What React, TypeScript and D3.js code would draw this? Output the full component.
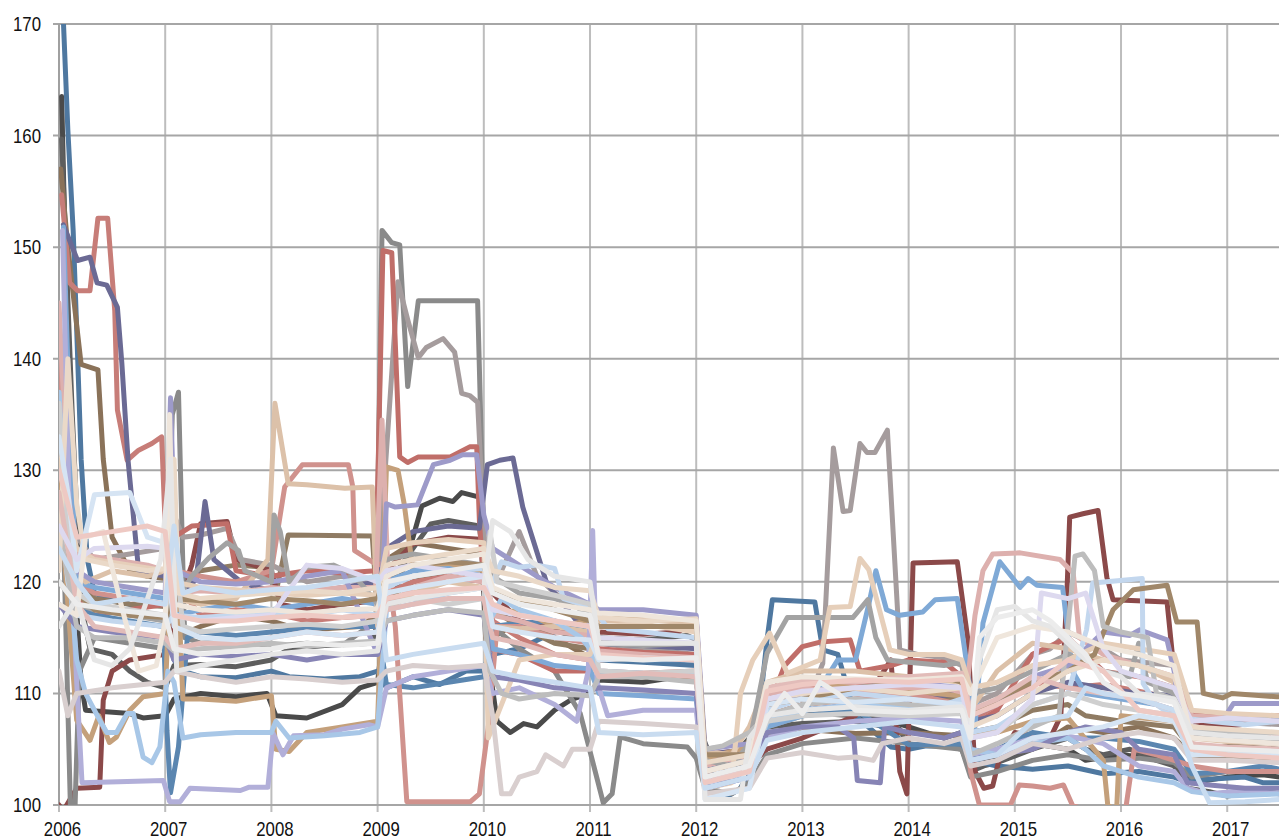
import React from "react";
import * as d3 from "d3";

// Each series: [month index since Jan 2006, index value]
const darkGray1 = [[0.3,163.5],[1,140],[1.8,120],[2.5,111],[3,108.5],[8,108.2],[9.5,107.8],[12,108],[13,109.5],[16,110],[20,109.7],[23.5,110],[24.5,108],[28,107.8],[32,109],[34,110.5],[36,111],[37,118],[38,119],[40,124],[41,126.8],[43,127.5],[44.5,127.2],[45.5,128],[47.5,127.6],[48.2,115],[49.5,107.5],[51,106.5],[52.5,107.3],[54,107],[56,108.5],[58,109.5],[60,110],[61,111.2],[66,111],[70,111.5],[72,111.5],[73,104],[74,102.5],[76,103],[78,104.5],[79.5,108],[84,108.3],[90,108],[94,107.5],[96,107],[100,106],[102,106.5],[103,104.5],[105,104],[107,105],[110,105.5],[114,105],[116,104],[120,104.5],[126,104],[128,102],[132,102.5],[136,102.7],[138,102.5]];
const darkGray2 = [[0.3,159.7],[1.5,135],[2.5,118],[3.5,114],[6,113.5],[8,112],[10,111],[12,110.5],[13,112.5],[16,112.6],[20,112.4],[24,113],[26,114],[30,114.3],[35.5,114.5],[36.5,119],[40,123],[42,125.2],[44,125.5],[47.5,125],[48.5,118],[50,117],[53,116],[56,115.7],[60,114.5],[61,115],[66,114.8],[71,115.2],[72,114.8],[72.8,106],[74,103.5],[76,104.2],[78,106],[80,107],[84,107.3],[90,107.5],[95,106.8],[96,105.2],[99,105.5],[102,105],[103,103],[104.5,103.5],[106,103.8],[110,105],[114,106],[116,105],[118,104.5],[121,105],[124,104],[126,103.5],[127.5,101.5],[130,101.2],[132,100.8],[136,101.2],[138,101]];
const steelBlue1 = [[0.2,176],[1,160.5],[1.6,151.5],[2,142.6],[2.5,131],[3.2,122],[4,119],[6,118.3],[8,118],[10,117.2],[12,116.5],[13,113],[14,112],[16,111.5],[20,111.4],[24,112],[26,111.5],[30,111.3],[34,111.5],[36,112],[37,110.5],[40,111.5],[43,110.8],[46,112],[48,112],[49,113.5],[52,114],[56,115.5],[58,116],[60,114],[61,113],[66,112.8],[72,112.5],[73,102],[75,100.5],[77,101.5],[78,103],[79,107.5],[80,114.8],[80.6,118.4],[85.4,118.2],[86.3,113.9],[88,113.5],[90,108],[94,105.2],[96,105],[98,105.3],[102,105.2],[103,104],[106,103.5],[110,103.2],[114,103.5],[118,102.8],[122,103],[126,102.5],[127,102.2],[130,102.3],[134,102.5],[136,102],[138,102]];
const brown1 = [[0.2,157],[1,150],[2.5,139.5],[4.4,139],[5,131],[6,124],[8,121],[10,120.5],[12,120.3],[13,115],[16,116],[20,117],[24,116.5],[26,116],[30,115.8],[34,116],[36,117],[37,122],[40,123.5],[44,123],[48,122.5],[49,115],[52,116.5],[56,115],[60,113.2],[61,112],[66,111.5],[72,111.5],[73,103.2],[76,103.8],[78,105.8],[80,106.5],[84,106.8],[90,106.4],[96,106.5],[102,106.2],[103,105],[106,104.5],[110,105],[114,107],[118,106.5],[122,107],[126,106],[128,104.5],[132,104.2],[138,104]];
const brown2 = [[0,128],[2,121],[4,118.5],[8,118],[12,117.8],[13,120],[16,121],[20,121.5],[23.5,121.3],[24.5,119],[25.9,124.2],[35.4,124.1],[36,117],[37,118.5],[40,120],[44,121],[48,120.5],[49,117.5],[52,116],[56,114.5],[60,114],[61,113],[66,113.2],[72,113],[73,104],[75,103.3],[78,104.8],[80,108],[84,109],[90,109.5],[96,110],[102,109.5],[103,106.5],[106,107],[110,108.5],[114,109],[116,108],[120,107.5],[126,107],[128,105],[132,105.3],[138,105]];
const darkRed1 = [[0,100],[0.5,99.5],[2,101.5],[4.6,101.6],[5,109.4],[6,112],[8,113],[12,113.5],[13,117],[15,121.5],[16,125.2],[19,125.4],[20,122],[24,121],[25,118],[28,117.5],[32,118],[36,118.3],[37,121],[40,123.4],[44,124],[48,123.8],[49,119],[52,116.5],[56,115.8],[60,115.2],[61,115.5],[66,115.3],[70,115.5],[72,116.7],[73,103],[75,102],[78,103.5],[80,105],[84,106],[90,108],[94,113],[95,103],[95.8,101],[96.5,121.7],[101.5,121.8],[102.7,114.8],[103.5,103],[104.5,101.5],[105.5,101.7],[106.2,104],[108,106.5],[112,106],[113.2,108],[113.9,119.3],[114.2,125.8],[115.7,126.1],[117.4,126.4],[118.4,120.4],[119.1,118.4],[125.2,118.2],[125.9,112.7],[127,109],[128,107.5],[132,107],[136,107.5],[138,107.3]];
const gray1 = [[0,140],[0.8,115],[1.3,99.5],[1.8,99.5],[2.3,112],[4,115],[8,114.5],[12,114],[12.8,135],[13.5,137],[14.2,115],[16,114.5],[20,114.8],[24,114.2],[28,114.5],[32,114.3],[35.8,116.5],[36.5,151.5],[37.6,150.4],[38.5,150.2],[39.4,137.5],[40.6,145.2],[47.3,145.2],[48,124],[49,116],[52,114],[56,112],[58.9,108.2],[61.5,100.2],[62.5,101],[63.4,106.1],[66,105.5],[71,105.2],[72,104.2],[73,101.5],[76,101],[78,102],[80,104.5],[84,105.5],[90,106],[96,105.5],[102,105],[103,102.5],[106,103],[110,104],[114,104.5],[118,104],[122,104.2],[126,103.8],[128,102.5],[132,103],[138,103]];
const mauveGray1 = [[0,130],[2,124],[4,122],[8,122.5],[12,123],[13,126],[14,124],[16,124.2],[19,124.8],[20.5,122],[24,121.5],[28,120],[32,120.5],[36,120],[38.3,146.9],[39.4,143.5],[40.6,140.1],[41.5,141],[43.4,141.8],[44.7,140.6],[45.5,136.9],[46.4,136.7],[47.3,136.1],[48.3,120],[50,121],[52,124.5],[54,120.5],[56,119],[60,117],[61,114.5],[66,114],[72,113.5],[73,104],[78,104.5],[80,107],[84,108],[86.3,112.7],[87.5,132],[88.6,126.3],[89.4,126.4],[90.5,132.4],[91.3,131.6],[92.2,131.6],[93.6,133.6],[95,113.9],[97,113.5],[100,113.2],[102,112.5],[103,109],[106,110],[110,113.5],[112,114],[114,115.5],[118,114],[120,113],[126,112.5],[128,108],[132,107.5],[138,107.2]];
const red1 = [[0,125],[2,119],[4,117],[8,117.5],[12,118],[13,124],[15,125],[19,125.2],[20,121],[24,120.5],[28,121],[32,120.8],[35.8,121],[36.6,149.7],[37.6,149.5],[38.5,131.2],[39.4,130.7],[40.6,131.2],[44.2,131.2],[46.4,132.1],[47.2,132.1],[47.5,125.5],[48.5,114],[52,113.5],[56,112],[60,112],[61,114],[66,113.7],[72,113.5],[73,104.5],[78,105],[80,108.5],[82,112.5],[84,114.2],[86,114.6],[89.4,114.8],[90.5,112],[94,112.5],[96,113],[100,112.8],[102,111.5],[103,107],[106,108.5],[110,113.5],[114,115],[118,112],[122,111.5],[126,110.5],[128,108.3],[132,108],[138,108]];
const salmon1 = [[0.3,154.7],[1.2,146.8],[2.1,146.1],[3.5,146.1],[4.4,152.6],[5.5,152.6],[6.3,144.3],[6.6,135.4],[7.7,130.9],[9,131.8],[10.5,132.4],[11.6,133],[12.2,121],[14,119],[16,117],[20,117.5],[24,117.2],[28,116.5],[32,116.8],[36,117],[37,119],[40,120],[44,120.5],[48,120],[49,116.5],[52,115],[56,113.5],[60,113],[61,112],[66,111.8],[72,112],[73,103.8],[78,104.5],[80,109.5],[84,110.5],[90,111],[96,110.5],[102,110],[103,107.5],[106,109],[110,111],[114,110.5],[118,110.8],[122,110.2],[126,109.5],[128,106.5],[132,106.2],[138,106]];
const slatePurple1 = [[0.5,152],[2.1,148.8],[3.5,149.1],[4.3,146.8],[5.4,146.6],[6.6,144.6],[7.1,139.6],[7.8,130.9],[9,121],[12,120.5],[13,118.5],[15.5,120.2],[16.5,127.2],[17.5,122],[20.7,119.9],[24,119.2],[28,119],[32,119.5],[36,120],[37,123],[40,124.5],[44,125],[47.5,124.8],[48.4,130.5],[49.8,130.9],[51.3,131.1],[52.4,126.7],[55.1,119.9],[58,117],[60,115],[61,114.5],[66,114.3],[72,114],[73,104.5],[78,105],[80,108],[84,108.5],[90,109],[96,109.5],[102,110],[103,107.5],[106,108],[110,110],[114,111],[118,110.5],[122,110],[126,109.8],[128,107],[132,106.5],[138,106.5]];
const steelBlue2 = [[0,138],[1,125],[2,118],[4,117],[8,116.5],[11.8,116],[12.2,106.7],[12.6,101.1],[13.5,105.2],[14.5,115],[16,115.5],[20,115.2],[24,115.5],[28,115.8],[32,116],[36,116],[37,110.8],[40,110.5],[44,111],[48,111.5],[49,116],[52,116.3],[56,116.5],[60,115.5],[61,113.5],[66,113],[72,113],[73,103.5],[78,104],[80,107.5],[84,108],[90,108.5],[96,105.4],[102,105.5],[103,104.2],[106,105],[110,106.5],[114,106],[118,106],[122,105.7],[126,105],[128,102.8],[132,103],[136,103.5],[138,103.2]];
const tan1 = [[0,129],[1,118],[2,107.6],[3.5,105.8],[4.5,108],[5.7,105.6],[6.5,106.1],[8,108.5],[9.5,109.7],[12,110],[13,128],[14,109.5],[16,109.5],[20,109.3],[24,109.8],[24.5,105],[26,104.8],[28,106.5],[32,107],[36,107.5],[37,130.3],[38.3,130],[39,127],[40,121],[44,121.5],[48,121],[49,117],[52,117.5],[56,116],[60,116.5],[61,116.8],[66,116.6],[72,116.5],[73,104.2],[78,105.2],[80,110.5],[84,111],[90,110.5],[96,110.2],[102,109.8],[103,106.2],[106,106.5],[110,107.5],[114,107.8],[118,104],[118.5,100],[119.5,99.5],[120,108],[126,107.5],[128,105.5],[132,104.8],[138,104.8]];
const pinkRed2008 = [[0,141],[1,125],[2,120],[4,119],[8,118.5],[12,118],[13,121],[16,120.5],[20,120],[24,121],[25.5,128.5],[27.5,130.5],[32.7,130.5],[33.2,128.5],[33.4,122.8],[35,122],[36,121.5],[37,121.8],[38,116],[39.3,100.3],[46.5,100.3],[47.5,101],[48.5,107],[49.5,116],[52,116],[56,115],[60,114.5],[61,113],[66,113.3],[72,113],[73,103],[78,104],[80,108],[84,109],[90,109.5],[96,110],[102,109],[103,103],[104,100],[106,100],[107.5,100],[108.5,101.8],[110,101.7],[112,101.5],[113.5,101.8],[114.5,100],[116,99.5],[120.5,99.5],[121.5,105],[124,104.5],[126,104],[128,103.5],[132,103],[138,103]];
const lightBlue1 = [[0.5,151.8],[1.3,132],[2,120],[4,119.5],[8,119],[12,118.5],[13,117],[16,117.5],[20,118],[24,117.5],[28,118],[32,118.5],[36,118],[37,120],[40,121],[44,121.2],[48,120.5],[49,114],[52,113.5],[56,112.5],[60,112.2],[61,110],[66,109.8],[72,109.5],[73,102],[78,103],[80,107],[84,108],[88,113],[90,113],[91.5,118],[92.3,121],[93.5,117.5],[95,117],[97.6,117.3],[99,118.4],[101.5,118.5],[102.5,113],[103.5,107],[104.4,116.3],[106.3,121.8],[108.6,119.5],[109.5,120.3],[110.5,119.7],[113.4,119.5],[114.5,112],[116,110],[120,109.5],[124,109],[126,108.5],[128,107.7],[132,107.6],[136,107.8],[138,107.6]];
const peach2008 = [[0,133],[1.5,122],[3,120],[6,121],[10,120.5],[12,121],[13,118.5],[16,118],[20,118.5],[23.6,122],[24.4,136],[25.9,128.8],[28,128.7],[32.3,128.4],[35.4,128.5],[36,116],[37,117.5],[40,119],[44,120],[48,119.5],[49,116],[52,115.8],[56,116],[60,115.5],[61,116.5],[66,116.6],[72,116.3],[73,104.8],[76,104.5],[78,107],[80,111],[84,112],[90,112],[96,111.5],[102,111],[103,108.5],[106,112],[110,114.5],[114,114],[118,113],[122,112.5],[126,111],[128,106],[132,105.7],[138,105.5]];
const pinkLight = [[0,145],[1,128],[2,122.5],[6,122],[10,121.5],[12,121],[13,119],[16,119.2],[20,119],[24,119.5],[28,119.2],[32,119.5],[35.8,119.5],[36.5,134.5],[37.3,118],[40,119.5],[44,120.5],[48,120],[49,117],[52,116.5],[56,115.5],[60,115.2],[61,113.8],[66,113.5],[72,113.2],[73,103.5],[78,104.5],[80,110],[84,110.5],[90,110],[96,110.5],[100,110.5],[102.5,110],[103.5,117],[104.4,121],[105.5,122.5],[108.6,122.6],[113.1,122],[114.6,120.8],[115.3,115],[118,113.5],[120,113],[124,112],[126,111.5],[128,108],[132,107.8],[138,107.5]];
const lavender2 = [[0,126],[2,121],[4,120],[8,119.5],[12,119],[12.6,136.5],[13.2,121],[16,120],[20,119.8],[24,120],[28,120.5],[32,121],[36,113.5],[37,127],[38,126.7],[40.5,126.9],[42.3,130.5],[44.2,130.9],[45.6,131.4],[47.2,131.4],[48,126],[49,123],[52,121.5],[56,119.5],[60,118],[61,117.5],[66,117.5],[72,117],[73,105],[78,105.5],[80,109],[84,110],[90,110.5],[96,111],[102,110.5],[103,108],[106,109],[110,111.5],[114,112.5],[118,115.5],[121,115.2],[122.1,115.7],[125.2,114.8],[126,112],[126.7,107.6],[131.5,107.6],[132.7,109.1],[138,109.1]];
const lavenderLow = [[0.4,151.5],[1.2,125],[2,111],[2.6,102],[11.8,102.2],[12.5,100.3],[13.7,100.3],[14.8,101.5],[20.5,101.3],[21.5,101.6],[23.6,101.6],[24.2,106.4],[25.3,104.5],[26.5,106.2],[30,106.3],[32,106.8],[35,107.2],[36,107],[37,110.5],[40,111.5],[44,112],[48,112.5],[49,110],[52,110.5],[56,109],[58.5,107.5],[59.8,112],[60.3,124.6],[60.8,111],[62,108],[66,108.5],[72,108.5],[73,101.5],[78,102.5],[80,106],[84,107],[90,107.5],[96,107.8],[102,107.5],[103,104.5],[106,105],[110,106],[114,106.2],[118,105.5],[122,103.5],[126,103],[127.5,101.5],[130,101],[134,101.3],[138,101]];
const lightBlueDip = [[0,137],[1,122],[2,113],[3,110],[4.6,107.6],[5.4,106.5],[6.5,106.5],[7.7,108.2],[8.4,108.2],[9.5,104.3],[10.5,103.8],[11.4,105.2],[12.3,112],[13,111],[14,106],[16,106.3],[20,106.5],[24,106.5],[24.5,107.5],[26,106],[30,106.2],[34,106.5],[36,107],[37,117.5],[40,118],[44,119],[48,119.5],[49,117],[50,118.5],[52,117.5],[56,116.5],[59,115],[60,114],[61,112],[66,111.8],[72,111.7],[73,101.5],[78,102.5],[80,107.5],[84,108.5],[90,109],[96,108.8],[102,109],[103,105],[106,104.5],[110,105.5],[114,106],[116,105],[118,103.5],[122,102.5],[126,102],[128,101.2],[132,100.8],[138,101]];
const gray2 = [[0,120],[2,118],[4,117.5],[8,117],[12,116.5],[13,118],[15,120.5],[17,122.2],[19,123.5],[20.3,122.8],[21,121],[24,120],[24.3,126],[25,124.5],[26,120],[28,121.3],[31,121.5],[33,120.8],[34.5,119.5],[36,118],[37,122],[40,122.5],[44,122],[48,121.5],[49,120.5],[52,119],[56,118.5],[58,118],[60,117],[61,114.5],[66,114.3],[72,114.5],[73,104],[76,103.5],[78,105.5],[80,113.6],[82.3,116.8],[89.7,116.8],[91.4,118.4],[92.3,115],[93.6,113],[96,112.8],[100,112.5],[102,112.8],[103,110],[106,110.5],[110,112],[114,113.5],[118,112],[121,111.5],[122,114.5],[123,111],[126,110],[128,106.5],[132,106],[138,105.8]];
const peach2013 = [[0,131],[1,126],[2,123],[4,122],[8,121.5],[12,121],[13,120],[16,119.5],[20,119.3],[24,119],[28,118.8],[32,119],[36,118.8],[37,123],[40,123.5],[44,123.8],[48,123.5],[48.5,106],[50,109],[52,113],[56,113.5],[60,113.5],[61,116],[66,116.2],[72,115.5],[73,101.5],[76,102],[77,110],[78.4,113],[80.3,115.4],[82.3,111.8],[86,113],[87.1,117.7],[89.4,117.8],[90.5,122.1],[91.5,121.1],[93.9,113.9],[96,113.5],[100,113.5],[102,113],[103,110.5],[106,111],[110,112.5],[114,113],[118,114.5],[122,114],[126,113.5],[128,108.5],[132,108.2],[138,108]];
const slateLow2013 = [[0,118],[2,116],[6,115.5],[12,115],[13,113],[16,113.5],[20,113.3],[24,113.5],[28,113],[32,113.5],[36,113.5],[37,116.5],[40,117],[44,117.5],[48,117],[49,111.5],[52,111.2],[56,110.5],[60,110.3],[61,110.5],[66,110.3],[72,110],[73,101.5],[78,102.5],[80,106.5],[84,107],[88,107],[89.8,106],[90.2,102.2],[92.8,102],[93.3,107],[96,106.5],[100,106],[102,106.5],[103,104],[106,104.5],[110,105],[114,106.5],[116,107],[120,106.5],[122,105],[126,104.5],[127.5,102],[130,101.8],[134,101.5],[138,101.5]];
const lightBlue2015 = [[0,128],[1,120],[2,117],[6,116.5],[12,116],[13,117],[16,116.8],[20,117],[24,117.2],[28,117],[32,117.5],[36,117],[37,119.5],[40,120.5],[44,121],[48,121.2],[49,120],[50,121.8],[52,121.3],[54,121.5],[56,121.2],[57,118.5],[59,118],[60,117.5],[61,117],[62,115.8],[66,115.5],[72,115],[73,102.5],[78,103.5],[80,108.5],[84,109.5],[90,110],[96,109.5],[100,109],[102,109.5],[103,106.5],[106,107],[110,109],[114,110],[116.1,115.7],[116.8,119.9],[122.4,120.3],[122.5,110.9],[124,109],[126,107.9],[130,107.5],[134,107.2],[138,107.5]];
const brown2016 = [[0,124],[2,119],[4,117.5],[8,117],[12,116.8],[13,118.5],[16,118.3],[20,118],[24,118.5],[28,118.3],[32,118],[36,118.5],[37,121],[40,121.5],[44,121.8],[48,121.5],[49,119],[52,118.5],[56,117.5],[60,116.5],[61,116],[66,116],[72,116],[73,104.5],[78,104.5],[80,109],[84,109.5],[90,110.5],[96,111],[100,111.5],[102,111],[103,108],[106,109.5],[110,111],[114,112],[117,113.5],[119.1,117.5],[121.4,119.3],[125.2,119.7],[126.3,116.4],[128.6,116.4],[129.3,110],[131.5,109.6],[132.5,110],[137.6,109.7],[138,109.7]];
const offWhite = [[0,112],[1,108],[2,110],[6,110.5],[12,111],[13,112],[16,111.5],[20,111],[24,111.5],[28,111.3],[32,111],[36,111.2],[37,112],[40,112.5],[44,112.3],[48,112.5],[49,108],[50,101],[51,101],[52,102.5],[54,103],[55,104.5],[57,103.5],[58,105],[60,105],[61,107.5],[66,107.3],[72,107],[73,101],[78,101.5],[80,104.2],[84,104.7],[88,104.2],[90,104.3],[92,104],[93,105.5],[96,106],[100,105.5],[102,106],[103,103.5],[106,104],[110,105.5],[114,105],[118,106],[122,106.5],[126,106],[128,104],[132,104],[138,103.8]];
const lightGray1 = [[0,136],[1,124],[2,119],[4,118],[8,117.5],[12,117],[13,124],[14,116],[16,115.5],[20,115.8],[24,116],[28,116.2],[32,116],[36,116.5],[37,118],[40,118.5],[44,118],[48,118.5],[48.7,124.5],[49.5,120],[52,119.5],[56,118.8],[60,118],[61,112],[66,111.8],[72,112],[73,103],[78,104],[80,107.5],[84,108],[90,108.2],[96,108],[102,108.2],[103,106],[106,106.5],[110,109],[114,110],[118,109],[122,108.5],[126,108],[128,105],[132,104.8],[138,104.6]];
const lightGray2 = [[0,125],[2,116],[4,115],[8,115],[12,114.5],[13,113.8],[16,114],[20,114.2],[24,114.5],[28,114.2],[32,114.5],[36,114.7],[37,116.5],[40,117],[44,117.5],[48,117.2],[48.7,112],[50,110],[52,109.5],[56,110],[60,109.8],[61,111.5],[66,111.5],[72,111],[73,105],[75,105.3],[78,106.5],[80,108],[84,109],[90,109.5],[96,109],[102,108.5],[103,104.5],[106,105.5],[110,107],[113,108],[114.8,122.3],[115.7,122.5],[117,121],[118,116],[120,115.5],[123,115],[124,110],[126,109.5],[128,106.8],[132,106.5],[138,106.5]];
const beige1 = [[0,121],[1,140],[2,127],[3,122],[6,121.5],[10,121],[12,121.2],[13,131],[13.5,119],[16,118.5],[20,118.8],[24,119],[28,119.2],[32,119],[36,119.5],[37,121.5],[40,122],[44,122.5],[48,123],[49,121],[52,120.5],[56,119.5],[60,119.2],[61,116.8],[66,116.5],[72,116.7],[73,103.8],[78,104.5],[80,109.5],[84,110],[90,110.5],[96,110],[102,110.5],[103,107],[106,108],[110,110],[114,112],[118,113],[122,112.5],[126,111.5],[128,107],[132,106.8],[138,106.5]];
const pink2 = [[0,128],[2,118],[4,116],[8,115.5],[12,115],[13,114],[16,114.5],[20,114.5],[24,115],[28,115.5],[32,115.2],[36,115.5],[37,117.5],[40,118],[44,118.5],[48,118.5],[49,115],[52,114.5],[56,113.5],[60,113],[61,111.5],[66,111.8],[72,111.5],[73,102.5],[78,103.2],[80,110.5],[84,111.2],[90,111],[96,111.5],[102,111.8],[103,108.5],[106,109.5],[110,111.5],[114,110.5],[118,110],[122,109.5],[126,108.5],[128,105.5],[132,105.2],[138,105]];
const veryLightBlue = [[0,133],[1,128],[2,121],[4,127.8],[8,128],[10,124],[12,123.5],[13,116],[16,115],[20,114.8],[24,115],[28,115.5],[32,115.2],[36,115.5],[37,119],[40,119.5],[44,120],[48,120.5],[49,116],[52,115.5],[56,115],[60,114.8],[61,113],[66,113.2],[72,113],[73,100.5],[78,101.5],[80,109],[84,109.5],[90,109.2],[96,109.5],[102,109],[103,104],[106,104.5],[110,106],[114,106.5],[118,107],[122,108],[126,107.5],[128,104.5],[132,104.5],[138,104.5]];
const paleLavender = [[0,125],[2,122],[4,123],[10,123.2],[12,123],[13,117],[16,116.5],[20,116.8],[24,117],[28,121.5],[32,121.2],[36,120],[37,121],[40,121.5],[44,121],[48,120.5],[49,117.5],[52,117],[56,116.5],[60,116],[61,115],[66,114.8],[72,114.5],[73,102],[78,103],[80,109.5],[84,110.2],[90,110.5],[96,110.8],[102,110.5],[103,106],[106,106.5],[110,109.5],[111,119],[114,118.5],[116,119],[118,114],[120,112],[122,111.5],[126,110.5],[128,107.5],[132,107.8],[138,107.5]];
const paleBeige = [[0,118],[2,117],[3,124],[5,124.5],[7,118],[9,112],[11,112.5],[12,116.5],[12.5,135],[13,118],[16,117.5],[20,117.3],[24,117.5],[28,117.2],[32,117.5],[36,117.6],[37,120.5],[40,121.5],[44,122],[48,122.5],[49,119.5],[52,118.5],[56,118],[60,117.5],[61,117.2],[66,117],[72,116.5],[73,103],[78,104],[80,111],[84,111.5],[90,111.3],[96,111.2],[102,111.5],[103,110],[106,115],[110,116],[114,115.5],[118,114.2],[122,113.5],[126,112.5],[128,106],[132,105.8],[138,105.5]];
const whiteGray = [[0,116],[2,118.5],[4,113],[6,112.5],[8,114],[10,118.5],[11.5,122],[12.6,131],[13.3,112],[16,112.5],[20,113],[24,113.5],[28,113.8],[32,113.5],[36,113.8],[37,118],[40,118.5],[44,119],[48,119.5],[49,125.5],[51,124.5],[53,122],[56,120.5],[60,120],[61,114.5],[66,114.5],[72,114.5],[73,100.5],[77,100.5],[78,106],[80,108],[84,108.5],[90,108.8],[96,108.5],[102,108.8],[103,107.5],[104,113],[106,117.5],[108,117.8],[110,116.5],[112,116],[114,114.5],[116,113],[118,112],[120,111.5],[122,110],[126,109.5],[128,106.5],[132,106.2],[138,106]];
const paleBlue2 = [[0,123],[2,120],[4,118],[8,118.5],[12,118],[13,125],[14,119],[16,119.5],[20,119],[24,119.3],[28,119.5],[32,120],[36,120.5],[37,113],[40,113.5],[44,114],[48,114.5],[49,112],[52,111.5],[56,111],[60,110.5],[61,106.5],[66,106.3],[72,106.5],[73,101.5],[78,102.5],[80,105.8],[84,106.5],[90,107],[96,107.5],[102,107],[103,104],[106,104.5],[110,107.5],[114,108],[116,110.5],[118,110],[122,109.5],[126,108.5],[128,103.5],[130,100.2],[134,100.3],[138,100.5]];
const paleSalmon = [[0,130],[2,124],[6,124.5],[10,125],[12,124.5],[13,117],[16,116.5],[20,116.5],[24,116.8],[28,117],[32,116.8],[36,117],[37,118.5],[40,119],[44,119.3],[48,119.5],[49,118],[52,117],[56,116.5],[60,116],[61,113.5],[66,113.2],[72,113],[73,102],[78,103],[80,110.2],[84,110.8],[90,111.2],[96,111],[102,111.3],[103,108],[106,109],[110,110.5],[114,113],[118,112],[122,108.5],[126,108],[128,105],[132,104.5],[138,104.2]];
const nearWhite = [[0,120],[2,118],[6,117.5],[12,117],[13,114],[16,113.5],[20,113.8],[24,114],[28,114.5],[32,114.3],[36,114.5],[37,120],[40,120.5],[44,121],[48,121.5],[49,119],[52,118],[56,117.5],[60,117],[61,113.2],[66,113],[72,113.2],[73,102.5],[78,103.5],[80,107.8],[82,110],[84,108.2],[86,111],[88,110],[90,108.5],[96,108.3],[102,108.5],[103,106],[104,115],[106,116.8],[110,117.5],[112,116.5],[114,115],[116,113.5],[118,111],[120,110],[122,109.8],[126,109.2],[128,105.2],[132,105],[138,104.8]];

const seriesList = [darkGray1, darkGray2, steelBlue1, brown1, brown2, darkRed1, gray1, mauveGray1, red1, salmon1, slatePurple1, steelBlue2, tan1, pinkRed2008, lightBlue1, peach2008, pinkLight, lavender2, lavenderLow, lightBlueDip, gray2, peach2013, slateLow2013, lightBlue2015, brown2016, offWhite, lightGray1, lightGray2, beige1, pink2, veryLightBlue, paleLavender, paleBeige, whiteGray, paleBlue2, paleSalmon, nearWhite];
const seriesColors = ["#4a4a4a", "#5e5e5e", "#4f78a0", "#8a7259", "#8f7b63", "#8b4949", "#8a8a8a", "#a59c9d", "#c06e69", "#c77d78", "#6b6a94", "#5b86b0", "#c4a07b", "#d0928d", "#7fa9d6", "#dcc1a9", "#ddb0ae", "#9d9ac9", "#b2afd9", "#a8c7e7", "#a3a3a3", "#e6cfba", "#8784b5", "#c3d7ee", "#a08769", "#d9cfcf", "#cfcfcf", "#bdbdbd", "#ead9c8", "#e2bcb9", "#d6e4f3", "#ddd9ef", "#efe6dc", "#e6e6e6", "#c9dcf0", "#eec9c3", "#ececec"];

const yTicks = [100, 110, 120, 130, 140, 150, 160, 170];
const xYears = [2006, 2007, 2008, 2009, 2010, 2011, 2012, 2013, 2014, 2015, 2016, 2017];

export default function App() {
  const W = 1279, H = 839;
  const left = 59, right = 1279, top = 24, bottom = 805;
  const x = d3.scaleLinear().domain([2006, 2006 + 137.85 / 12]).range([left, right]);
  const y = d3.scaleLinear().domain([100, 170]).range([bottom, top]);
  const line = d3.line<number[]>().x((d) => x(2006 + d[0] / 12)).y((d) => y(d[1]));
  const font = "'Liberation Sans', Arial, sans-serif";
  return (
    <svg width={W} height={H} style={{ position: "absolute", left: 0, top: 0, background: "#fff" }}>
      <defs>
        <clipPath id="plot">
          <rect x={left} y={top} width={right - left} height={bottom - top} />
        </clipPath>
      </defs>
      {xYears.map((yr) => (
        <line key={"vx" + yr} x1={x(yr)} x2={x(yr)} y1={top} y2={bottom + 7} stroke="#bdbdbd" strokeWidth={2} />
      ))}
      {yTicks.map((t) => (
        <line key={"hy" + t} x1={left - 6} x2={right} y1={y(t)} y2={y(t)} stroke="#a6a6a6" strokeWidth={2} />
      ))}
      <line x1={left} x2={left} y1={top} y2={bottom} stroke="#a0a0a0" strokeWidth={2} />
      <g clipPath="url(#plot)">
        {seriesList.map((s, i) => (
          <path key={i} d={line(s as number[][]) || ""} fill="none" stroke={seriesColors[i]} strokeWidth={5} strokeLinejoin="round" strokeLinecap="round" />
        ))}
      </g>
      {yTicks.map((t) => (
        <text key={"yl" + t} transform={`translate(41,${y(t) + 7}) scale(0.84,1)`} textAnchor="end" fontFamily={font} fontSize={20} fill="#111">
          {t}
        </text>
      ))}
      {xYears.map((yr) => (
        <text key={"xl" + yr} transform={`translate(${x(yr) + 3.5},836) scale(0.84,1)`} textAnchor="middle" fontFamily={font} fontSize={20} fill="#111">
          {yr}
        </text>
      ))}
    </svg>
  );
}
